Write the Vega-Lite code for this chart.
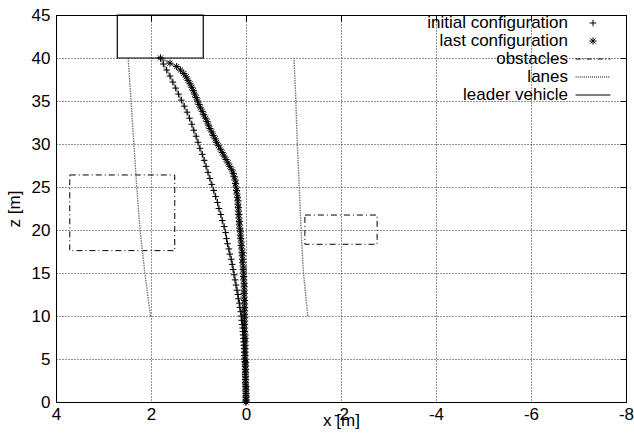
{
  "$schema": "https://vega.github.io/schema/vega-lite/v6.json",
  "width": 570,
  "height": 387,
  "autosize": "none",
  "padding": {"left": 56, "top": 15, "right": 8, "bottom": 36},
  "background": "white",
  "config": {
    "font": "Liberation Sans",
    "view": {"stroke": "black", "strokeWidth": 1},
    "axis": {
      "labelFont": "Liberation Sans",
      "labelFontSize": 17,
      "labelColor": "black",
      "titleFont": "Liberation Sans",
      "titleFontSize": 17,
      "titleFontWeight": "normal",
      "titleColor": "black",
      "gridColor": "black",
      "gridDash": [1, 2],
      "gridWidth": 1,
      "gridOpacity": 0.85,
      "domainColor": "black",
      "tickColor": "black"
    },
    "legend": {
      "title": null,
      "orient": "none",
      "legendX": 528.5,
      "legendY": -0.5,
      "padding": 0,
      "labelAlign": "right",
      "labelOffset": -33.5,
      "rowPadding": 0,
      "labelFont": "Liberation Sans",
      "labelFontSize": 17,
      "labelColor": "black",
      "labelLimit": 400,
      "symbolSize": 144,
      "symbolStrokeWidth": 1,
      "symbolStrokeColor": "black",
      "symbolFillColor": "transparent"
    }
  },
  "datasets": {
    "init": [
      {"x": 0, "z": 0}, {"x": 0, "z": 0.25}, {"x": 0, "z": 0.5}, {"x": 0, "z": 0.75}, {"x": 0, "z": 1},
      {"x": 0.005, "z": 1.25}, {"x": 0.005, "z": 1.5}, {"x": 0.005, "z": 1.75}, {"x": 0.01, "z": 2},
      {"x": 0.01, "z": 2.3}, {"x": 0.01, "z": 2.6}, {"x": 0.01, "z": 2.9}, {"x": 0.015, "z": 3.2},
      {"x": 0.015, "z": 3.5}, {"x": 0.02, "z": 3.8}, {"x": 0.02, "z": 4.1}, {"x": 0.02, "z": 4.4},
      {"x": 0.025, "z": 4.7}, {"x": 0.03, "z": 5}, {"x": 0.03, "z": 5.4}, {"x": 0.035, "z": 5.8},
      {"x": 0.04, "z": 6.2}, {"x": 0.045, "z": 6.6}, {"x": 0.05, "z": 7}, {"x": 0.055, "z": 7.4},
      {"x": 0.06, "z": 7.8}, {"x": 0.065, "z": 8.2}, {"x": 0.07, "z": 8.6}, {"x": 0.08, "z": 9},
      {"x": 0.09, "z": 9.5}, {"x": 0.1, "z": 10}, {"x": 0.11, "z": 10.5}, {"x": 0.13, "z": 11},
      {"x": 0.14, "z": 11.5}, {"x": 0.16, "z": 12}, {"x": 0.17, "z": 12.5}, {"x": 0.19, "z": 13},
      {"x": 0.21, "z": 13.6}, {"x": 0.23, "z": 14.2}, {"x": 0.25, "z": 14.8}, {"x": 0.27, "z": 15.4},
      {"x": 0.29, "z": 16}, {"x": 0.31, "z": 16.6}, {"x": 0.34, "z": 17.2}, {"x": 0.36, "z": 17.8},
      {"x": 0.39, "z": 18.4}, {"x": 0.41, "z": 19}, {"x": 0.43, "z": 19.7}, {"x": 0.46, "z": 20.4},
      {"x": 0.5, "z": 21.1}, {"x": 0.53, "z": 21.8}, {"x": 0.57, "z": 22.5}, {"x": 0.6, "z": 23.2},
      {"x": 0.64, "z": 23.9}, {"x": 0.68, "z": 24.6}, {"x": 0.72, "z": 25.3}, {"x": 0.76, "z": 26},
      {"x": 0.8, "z": 26.7}, {"x": 0.84, "z": 27.4}, {"x": 0.88, "z": 28.1}, {"x": 0.92, "z": 28.8},
      {"x": 0.97, "z": 29.5}, {"x": 1.01, "z": 30.2}, {"x": 1.05, "z": 30.9}, {"x": 1.1, "z": 31.6},
      {"x": 1.14, "z": 32.3}, {"x": 1.19, "z": 33}, {"x": 1.24, "z": 33.7}, {"x": 1.3, "z": 34.4},
      {"x": 1.36, "z": 35.1}, {"x": 1.42, "z": 35.8}, {"x": 1.48, "z": 36.5}, {"x": 1.54, "z": 37.2},
      {"x": 1.6, "z": 37.9}, {"x": 1.67, "z": 38.6}, {"x": 1.74, "z": 39.3}, {"x": 1.8, "z": 40}
    ],
    "last": [
      {"x": 0, "z": 0}, {"x": 0, "z": 0.2}, {"x": 0, "z": 0.6}, {"x": 0, "z": 1.0}, {"x": 0, "z": 1.4},
      {"x": 0, "z": 1.8}, {"x": 0.01, "z": 2.2}, {"x": 0.01, "z": 2.6}, {"x": 0.01, "z": 3.0},
      {"x": 0.01, "z": 3.4}, {"x": 0.01, "z": 3.8}, {"x": 0.01, "z": 4.2}, {"x": 0.01, "z": 4.6},
      {"x": 0.02, "z": 5.0}, {"x": 0.02, "z": 5.4}, {"x": 0.02, "z": 5.8}, {"x": 0.02, "z": 6.2},
      {"x": 0.02, "z": 6.6}, {"x": 0.02, "z": 7.0}, {"x": 0.02, "z": 7.4}, {"x": 0.02, "z": 7.8},
      {"x": 0.03, "z": 8.2}, {"x": 0.03, "z": 8.6}, {"x": 0.03, "z": 9.0}, {"x": 0.03, "z": 9.4},
      {"x": 0.03, "z": 9.8}, {"x": 0.03, "z": 10.2}, {"x": 0.03, "z": 10.6}, {"x": 0.03, "z": 11.0},
      {"x": 0.03, "z": 11.4}, {"x": 0.03, "z": 11.8}, {"x": 0.04, "z": 12.2}, {"x": 0.04, "z": 12.6},
      {"x": 0.04, "z": 13.0}, {"x": 0.04, "z": 13.4}, {"x": 0.04, "z": 13.8}, {"x": 0.05, "z": 14.2},
      {"x": 0.05, "z": 14.6}, {"x": 0.05, "z": 15.0}, {"x": 0.06, "z": 15.4}, {"x": 0.06, "z": 15.8},
      {"x": 0.07, "z": 16.2}, {"x": 0.07, "z": 16.6}, {"x": 0.08, "z": 17.0}, {"x": 0.08, "z": 17.4},
      {"x": 0.09, "z": 17.8}, {"x": 0.1, "z": 18.2}, {"x": 0.1, "z": 18.6}, {"x": 0.11, "z": 19.0},
      {"x": 0.12, "z": 19.4}, {"x": 0.12, "z": 19.8}, {"x": 0.13, "z": 20.2}, {"x": 0.14, "z": 20.6},
      {"x": 0.14, "z": 21.0}, {"x": 0.15, "z": 21.4}, {"x": 0.15, "z": 21.8}, {"x": 0.16, "z": 22.2},
      {"x": 0.16, "z": 22.6}, {"x": 0.17, "z": 23.0}, {"x": 0.17, "z": 23.4}, {"x": 0.18, "z": 23.8},
      {"x": 0.19, "z": 24.2}, {"x": 0.2, "z": 24.6}, {"x": 0.21, "z": 25.0}, {"x": 0.22, "z": 25.4},
      {"x": 0.23, "z": 25.8}, {"x": 0.25, "z": 26.2}, {"x": 0.27, "z": 26.6}, {"x": 0.3, "z": 27.0},
      {"x": 0.34, "z": 27.4}, {"x": 0.38, "z": 27.8}, {"x": 0.42, "z": 28.2}, {"x": 0.46, "z": 28.6},
      {"x": 0.5, "z": 29.0}, {"x": 0.54, "z": 29.4}, {"x": 0.58, "z": 29.8}, {"x": 0.62, "z": 30.2},
      {"x": 0.65, "z": 30.6}, {"x": 0.69, "z": 31.0}, {"x": 0.72, "z": 31.4}, {"x": 0.76, "z": 31.8},
      {"x": 0.79, "z": 32.2}, {"x": 0.82, "z": 32.6}, {"x": 0.85, "z": 33.0}, {"x": 0.89, "z": 33.4},
      {"x": 0.92, "z": 33.8}, {"x": 0.96, "z": 34.2}, {"x": 0.99, "z": 34.6}, {"x": 1.02, "z": 35.0},
      {"x": 1.05, "z": 35.4}, {"x": 1.08, "z": 35.8}, {"x": 1.11, "z": 36.2}, {"x": 1.14, "z": 36.6},
      {"x": 1.18, "z": 37.0}, {"x": 1.22, "z": 37.4}, {"x": 1.26, "z": 37.8}, {"x": 1.31, "z": 38.2},
      {"x": 1.38, "z": 38.6}, {"x": 1.46, "z": 39.0}, {"x": 1.6, "z": 39.4}, {"x": 1.8, "z": 40.0}
    ],
    "obstacles": [
      {"x": 1.5, "x2": 3.71, "z": 17.6, "z2": 26.4},
      {"x": -1.24, "x2": -2.76, "z": 18.34, "z2": 21.74}
    ],
    "leader": [
      {"x": 0.9, "x2": 2.71, "z": 40, "z2": 45}
    ],
    "lanes": [
      {"lane": "left", "x": 2.01, "z": 10}, {"lane": "left", "x": 2.13, "z": 15},
      {"lane": "left", "x": 2.23, "z": 20}, {"lane": "left", "x": 2.3, "z": 25},
      {"lane": "left", "x": 2.36, "z": 30}, {"lane": "left", "x": 2.42, "z": 35},
      {"lane": "left", "x": 2.48, "z": 40},
      {"lane": "right", "x": -1.3, "z": 10}, {"lane": "right", "x": -1.21, "z": 15},
      {"lane": "right", "x": -1.16, "z": 20}, {"lane": "right", "x": -1.12, "z": 25},
      {"lane": "right", "x": -1.08, "z": 30}, {"lane": "right", "x": -1.05, "z": 35},
      {"lane": "right", "x": -1.01, "z": 40}
    ]
  },
  "resolve": {"axis": {"x": "independent", "y": "independent"}},
  "layer": [
    {
      "data": {"name": "obstacles"},
      "mark": {"type": "rect", "filled": false, "stroke": "black", "strokeWidth": 1, "strokeDash": [6, 3, 1, 3]},
      "encoding": {
        "x": {
          "field": "x", "type": "quantitative",
          "scale": {"domain": [4, -8], "nice": false, "zero": false},
          "axis": {
            "orient": "bottom", "values": [4, 2, 0, -2, -4, -6, -8], "title": "x [m]",
            "grid": true, "ticks": false, "domain": false, "labelPadding": 4, "titlePadding": -10,
            "labelExpr": "'' + datum.value", "labelFlush": false, "labelOverlap": false
          }
        },
        "x2": {"field": "x2"},
        "y": {
          "field": "z", "type": "quantitative",
          "scale": {"domain": [0, 45], "nice": false, "zero": false},
          "axis": {
            "orient": "left", "values": [0, 5, 10, 15, 20, 25, 30, 35, 40, 45], "title": "z [m]",
            "grid": true, "ticks": false, "domain": false, "labelPadding": 6, "titlePadding": 8,
            "labelFlush": false, "labelOverlap": false
          }
        },
        "y2": {"field": "z2"}
      }
    },
    {
      "data": {"name": "lanes"},
      "mark": {"type": "line", "stroke": "#777", "strokeWidth": 1.4, "strokeDash": [1.5, 1]},
      "encoding": {
        "x": {"field": "x", "type": "quantitative", "axis": null},
        "y": {"field": "z", "type": "quantitative", "axis": null},
        "detail": {"field": "lane"},
        "order": {"field": "z", "type": "quantitative"}
      }
    },
    {
      "data": {"name": "leader"},
      "mark": {"type": "rect", "filled": false, "stroke": "black", "strokeWidth": 1.2},
      "encoding": {
        "x": {"field": "x", "type": "quantitative", "axis": null},
        "x2": {"field": "x2"},
        "y": {"field": "z", "type": "quantitative", "axis": null},
        "y2": {"field": "z2"}
      }
    },
    {
      "data": {"name": "init"},
      "mark": {"type": "line", "stroke": "#999", "strokeWidth": 2},
      "encoding": {
        "x": {"field": "x", "type": "quantitative", "axis": null},
        "y": {"field": "z", "type": "quantitative", "axis": null},
        "order": {"field": "z", "type": "quantitative"}
      }
    },
    {
      "data": {"name": "last"},
      "mark": {"type": "line", "stroke": "#999", "strokeWidth": 2},
      "encoding": {
        "x": {"field": "x", "type": "quantitative", "axis": null},
        "y": {"field": "z", "type": "quantitative", "axis": null},
        "order": {"field": "z", "type": "quantitative"}
      }
    },
    {
      "data": {"name": "init"},
      "mark": {"type": "point", "filled": false, "stroke": "black", "strokeWidth": 1, "size": 144, "opacity": 1},
      "encoding": {
        "x": {"field": "x", "type": "quantitative", "axis": null},
        "y": {"field": "z", "type": "quantitative", "axis": null},
        "shape": {
          "datum": "initial configuration", "type": "nominal",
          "scale": {
            "domain": ["initial configuration", "last configuration", "obstacles", "lanes", "leader vehicle"],
            "range": [
              "M-0.55,0L0.55,0M0,-0.55L0,0.55",
              "M-0.6,0L0.6,0M0,-0.6L0,0.6M-0.42,-0.42L0.42,0.42M-0.42,0.42L0.42,-0.42",
              "M-2.9,0L-2.07,0M-1.65,0L-1.48,0M-1.06,0L-0.23,0M0.19,0L0.36,0M0.78,0L1.61,0M2.03,0L2.2,0M2.62,0L2.9,0",
              "M-2.9,0L-2.73,0M-2.56,0L-2.39,0M-2.22,0L-2.05,0M-1.88,0L-1.71,0M-1.54,0L-1.37,0M-1.2,0L-1.03,0M-0.86,0L-0.69,0M-0.52,0L-0.35,0M-0.18,0L-0.01,0M0.16,0L0.33,0M0.5,0L0.67,0M0.84,0L1.01,0M1.18,0L1.35,0M1.52,0L1.69,0M1.86,0L2.03,0M2.2,0L2.37,0M2.54,0L2.71,0M2.88,0L2.9,0",
              "M-2.9,0L2.9,0"
            ]
          },
          "legend": {"padding": 0, "labelOffset": -33.5, "labelAlign": "right"}
        }
      }
    },
    {
      "data": {"name": "last"},
      "mark": {"type": "point", "filled": false, "stroke": "black", "strokeWidth": 1, "size": 144, "opacity": 1},
      "encoding": {
        "x": {"field": "x", "type": "quantitative", "axis": null},
        "y": {"field": "z", "type": "quantitative", "axis": null},
        "shape": {"datum": "last configuration", "type": "nominal"}
      }
    },
    {
      "mark": {"type": "rect", "fill": "white", "stroke": null},
      "encoding": {
        "x": {
          "datum": -2.8, "type": "quantitative",
          "axis": {"orient": "top", "values": [4, 2, 0, -2, -4, -6, -8], "labels": false, "title": null, "grid": false, "ticks": true, "tickSize": -6, "domain": true, "zindex": 1}
        },
        "x2": {"datum": -8},
        "y": {
          "datum": 31.6, "type": "quantitative",
          "axis": {"orient": "right", "values": [0, 5, 10, 15, 20, 25, 30, 35, 40, 45], "labels": false, "title": null, "grid": false, "ticks": true, "tickSize": -6, "domain": true, "zindex": 1}
        },
        "y2": {"datum": 45}
      }
    }
  ]
}
